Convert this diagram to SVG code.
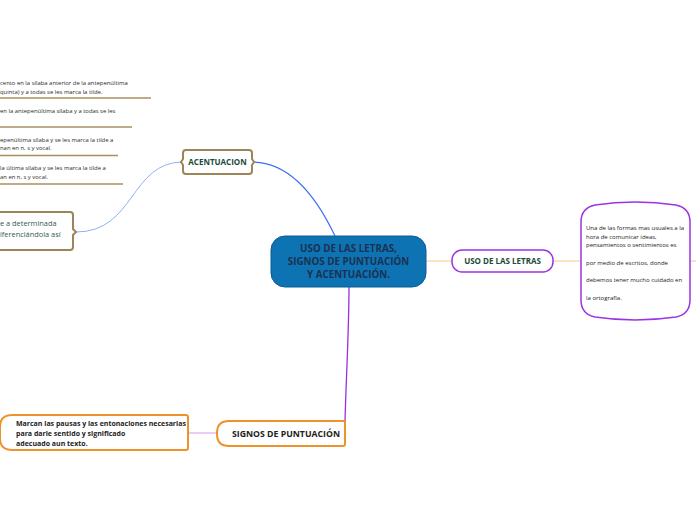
<svg xmlns="http://www.w3.org/2000/svg" width="696" height="520" viewBox="0 0 696 520">
<style>
.t{font-family:"Open Sans","Noto Sans","Liberation Sans",sans-serif}
.small{font-size:5.9px;fill:#2a2a2a}
.tit{font-size:8px;font-weight:bold;fill:#1b4a3a}
.uline{stroke:#a89060;stroke-width:1.6;fill:none}
.brown{fill:#fff;stroke:#9c8558;stroke-width:2}
.purple{fill:#fff;stroke:#9b35e3;stroke-width:1.5}
.orange{fill:#fff;stroke:#f0922a;stroke-width:2}
</style>
<rect width="696" height="520" fill="#fff"/>
<g id="connectors" fill="none">
<path d="M252,162 C292,162 318,200 335,236" stroke="#3b6ef0" stroke-width="1.2"/>
<path d="M183,162 C130,162 135,232 76,232" stroke="#8fb0f5" stroke-width="1"/>
<path d="M426,261 L452,261" stroke="#f7c786" stroke-width="1"/>
<path d="M553,261 L581,261" stroke="#f7c786" stroke-width="1"/>
<path d="M690,261 L696,261" stroke="#f7c786" stroke-width="1"/>
<path d="M349,287 C349,330 346,380 345,422" stroke="#9a30dd" stroke-width="1.3"/>
<path d="M217,433 L188,433" stroke="#dba8f0" stroke-width="1.2"/>
</g>
<g id="central">
<rect x="271" y="236" width="155" height="51" rx="14" fill="#0d73b2" stroke="#0a5e95" stroke-width="1"/>
<text class="t" x="348.5" y="252" text-anchor="middle" font-size="9.8" font-weight="bold" fill="#1b3152">USO DE LAS LETRAS,</text>
<text class="t" x="348.5" y="265" text-anchor="middle" font-size="9.8" font-weight="bold" fill="#1b3152">SIGNOS DE PUNTUACIÓN</text>
<text class="t" x="348.5" y="278" text-anchor="middle" font-size="9.8" font-weight="bold" fill="#1b3152">Y ACENTUACIÓN.</text>
</g>
<g id="acentuacion">
<path class="brown" d="M186,150 L249,150 Q252,150 252,153 L252,159 L254,162 L252,165 L252,171 Q252,174 249,174 L186,174 Q183,174 183,171 L183,165 L181,162 L183,159 L183,153 Q183,150 186,150 Z"/>
<text class="t tit" x="217.5" y="165" text-anchor="middle">ACENTUACION</text>
</g>
<g id="acent-left">
<path class="brown" d="M-5,212 L70,212 Q73,212 73,215 L73,229 L76,232 L73,235 L73,247 Q73,250 70,250 L-5,250 Z"/>
<text class="t" x="0" y="226" font-size="7.4" fill="#2f5d50">e a determinada</text>
<text class="t" x="0" y="237" font-size="7.4" fill="#2f5d50">iferenciándola así</text>
</g>
<g id="acent-items">
<text class="t small" x="0" y="85">cento en la sílaba anterior de la antepenúltima</text>
<text class="t small" x="0" y="94">quinta) y a todas se les marca la tilde.</text>
<line class="uline" x1="0" y1="98" x2="151" y2="98"/>
<text class="t small" x="0" y="113">en la antepenúltima sílaba y a todas se les</text>
<line class="uline" x1="0" y1="127" x2="132" y2="127"/>
<text class="t small" x="0" y="142">epenúltima sílaba y se les marca la tilde a</text>
<text class="t small" x="0" y="150">nan en n, s y vocal.</text>
<line class="uline" x1="0" y1="155.5" x2="118" y2="155.5"/>
<text class="t small" x="0" y="170">la última sílaba y se les marca la tilde a</text>
<text class="t small" x="0" y="179">an en n, s y vocal.</text>
<line class="uline" x1="0" y1="184" x2="123" y2="184"/>
</g>
<g id="uso">
<rect class="purple" x="452" y="250" width="101" height="22" rx="10"/>
<text class="t tit" x="502.5" y="264" text-anchor="middle">USO DE LAS LETRAS</text>
</g>
<g id="uso-box">
<path class="purple" d="M581,222 Q581,208 595,205 Q635,199 676,205 Q690,208 690,222 L690,300 Q690,314 676,317 Q635,323 595,317 Q581,314 581,300 Z"/>
<text class="t" x="586" y="230" font-size="6" fill="#222">Una de las formas mas usuales a la</text>
<text class="t" x="586" y="238.5" font-size="6" fill="#222">hora de comunicar ideas,</text>
<text class="t" x="586" y="247" font-size="6" fill="#222">pensamientos o sentimientos es</text>
<text class="t" x="586" y="264.5" font-size="6" fill="#222">por medio de escritos, donde</text>
<text class="t" x="586" y="282" font-size="6" fill="#222">debemos tener mucho cuidado en</text>
<text class="t" x="586" y="299.5" font-size="6" fill="#222">la ortografía.</text>
</g>
<g id="signos">
<path class="orange" d="M229,421 L343,421 Q345,421 345,423 L345,444 Q345,446 343,446 L229,446 Q217,446 217,434 L217,433 Q217,421 229,421 Z"/>
<text class="t" x="286" y="437" text-anchor="middle" font-size="8" font-weight="bold" fill="#222" textLength="108" lengthAdjust="spacingAndGlyphs">SIGNOS DE PUNTUACIÓN</text>
</g>
<g id="signos-box">
<path class="orange" d="M12,415 L186,415 Q188,415 188,417 L188,448 Q188,450 186,450 L12,450 Q0,450 0,438 L0,427 Q0,415 12,415 Z"/>
<text class="t" x="16" y="426" font-size="7" font-weight="bold" fill="#222">Marcan las pausas y las entonaciones necesarias</text>
<text class="t" x="16" y="436" font-size="7" font-weight="bold" fill="#222">para darle sentido y significado</text>
<text class="t" x="16" y="446" font-size="7" font-weight="bold" fill="#222">adecuado aun texto.</text>
</g>
</svg>
